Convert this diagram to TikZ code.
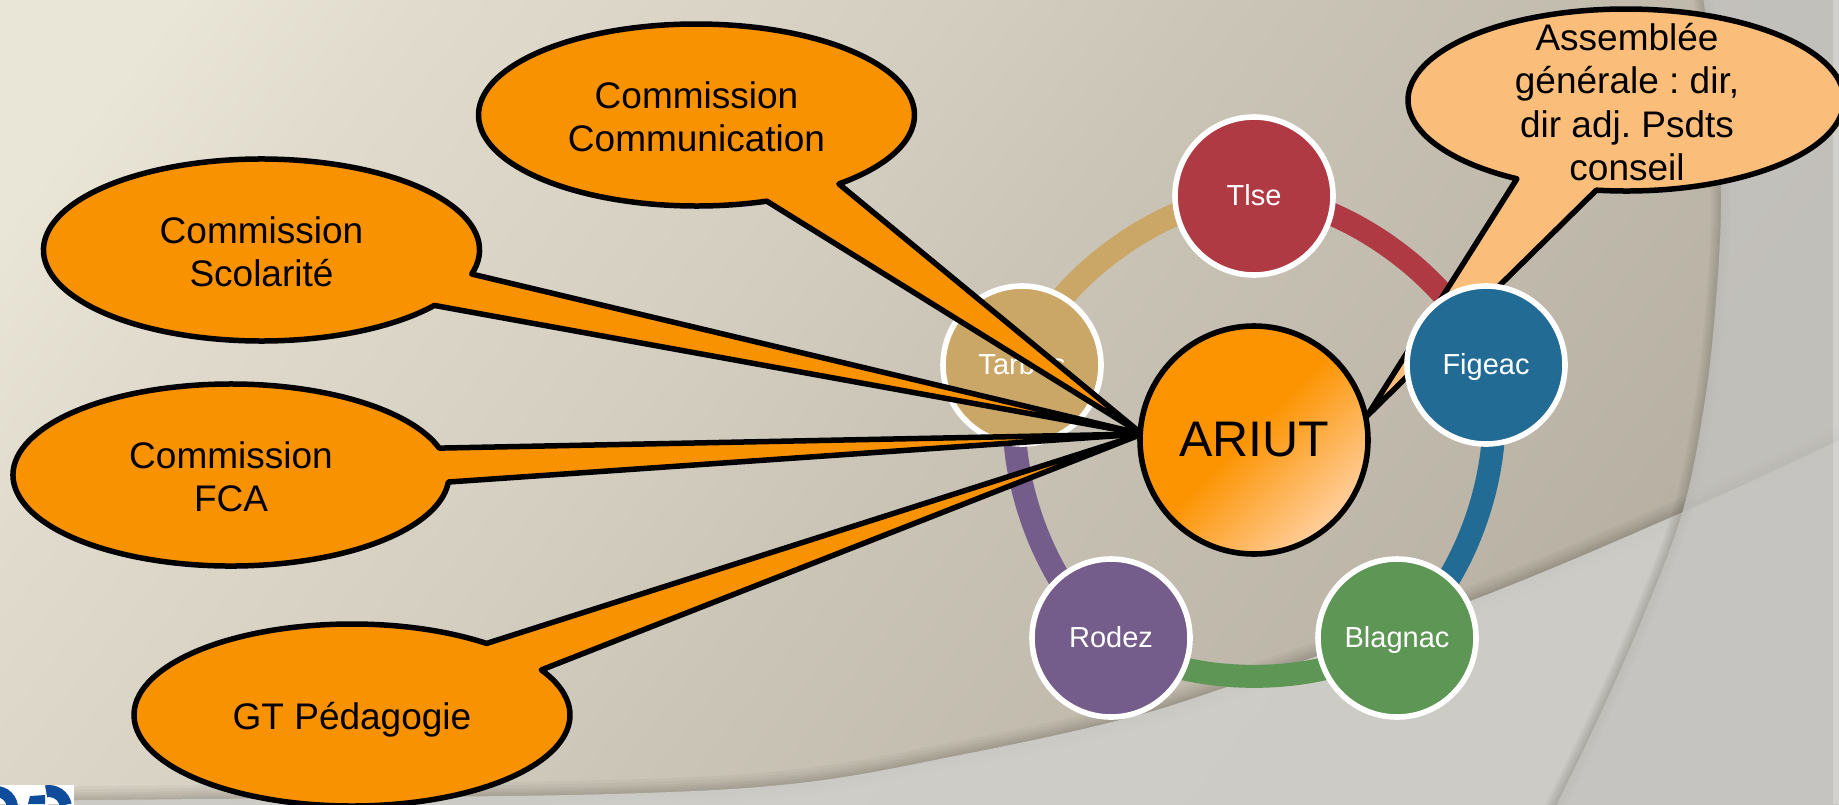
\documentclass[tikz,border=0pt]{standalone}
\usepackage{fontspec}
\setmainfont{Liberation Sans}
\frenchspacing
\usetikzlibrary{shapes.geometric}
\definecolor{bgA}{HTML}{E9E5D7}
\definecolor{bgE}{HTML}{E0DBCD}
\definecolor{bgD}{HTML}{DAD5C7}
\definecolor{bgC}{HTML}{D3CEC0}
\definecolor{bgM}{HTML}{CBC5B8}
\definecolor{bgB}{HTML}{B6AFA2}
\definecolor{shadowc}{HTML}{5E594E}
\definecolor{overB}{HTML}{D0CFCB}
\definecolor{overR}{HTML}{C4C3BF}
\definecolor{orangeC}{HTML}{F89200}
\definecolor{lightC}{HTML}{FBBE7A}
\definecolor{ariO}{HTML}{FC9300}
\definecolor{ariL}{HTML}{FFCF9E}
\definecolor{tlseC}{HTML}{B03A44}
\definecolor{figC}{HTML}{226B94}
\definecolor{blaC}{HTML}{5E9655}
\definecolor{rodC}{HTML}{745C8B}
\definecolor{tarC}{HTML}{CBA767}
\definecolor{logoC}{HTML}{0F4C9C}
\pgfdeclarehorizontalshading{ariutsh}{100bp}{color(0bp)=(ariO); color(48bp)=(ariO); color(75bp)=(ariL); color(100bp)=(ariL)}
\pgfdeclareverticalshading{pagesh}{100bp}{color(0bp)=(bgB); color(25bp)=(bgB); color(50bp)=(bgM); color(58bp)=(bgC); color(66bp)=(bgD); color(73bp)=(bgE); color(80bp)=(bgA); color(100bp)=(bgA)}
\pgfdeclarelayer{bgl}\pgfdeclarelayer{ring}\pgfdeclarelayer{mid}\pgfdeclarelayer{top}
\pgfsetlayers{bgl,ring,mid,main,top}
\tikzset{
  site/.style={circle,draw=white,line width=2.8pt,minimum size=79pt,inner sep=0pt,text=white,text height=10.4pt,text depth=1.4pt,font=\fontsize{14.5}{17}\selectfont},
  hub/.style={circle,draw=black,line width=2.8pt,minimum size=114pt,inner sep=0pt,shading=ariutsh,shading angle=-45,font=\fontsize{25}{30}\selectfont},
  ringarc/.style={line width=11.5pt,bend left=36,looseness=0.78},
  callshape/.style={draw=black,line width=2.75pt,line join=round},
  calltext/.style={align=center,inner sep=0pt,font=\fontsize{18.5}{21.7}\selectfont},
  soft/.style={draw=shadowc,opacity=0.06}
}
% #1 fill, #2 tip, #3 #4 centre, #5 #6 first base point, #7 #8 second base point
\newcommand\calloutpath[8]{%
  \pgfmathsetmacro{\tA}{atan2((#4-#6)/91,(#5-#3)/218)}%
  \pgfmathsetmacro{\tB}{atan2((#4-#8)/91,(#7-#3)/218)}%
  \pgfmathsetmacro{\tC}{\tB<\tA ? \tB+360 : \tB}%
  \draw[callshape,fill=#1] ({#3+218*cos(\tA)},{#4-91*sin(\tA)})
    arc[start angle=\tA,end angle=\tC,x radius=109pt,y radius=45.5pt] -- (#2) -- cycle;}
\newcommand\curveB{plot[smooth,tension=0.6] coordinates {(-5,801) (300,798) (612,794) (800,783) (960,755) (1112,722) (1224,688) (1473,600) (1683,512) (1844,438)}}
\newcommand\curveR{plot[smooth,tension=0.6] coordinates {(1703,-3) (1716,100) (1721,200) (1716,300) (1705,400) (1683,510) (1643,617) (1600,715) (1555,808)}}
\begin{document}
\begin{tikzpicture}[x=0.5pt,y=-0.5pt]
\useasboundingbox (0,0) rectangle (1839,804);
\begin{pgfonlayer}{bgl}
  \shade[shading=pagesh,shading angle=52] (0,0) rectangle (1839,804);
  \foreach \w in {2,4,6,8,11,14}{\draw[soft,line width=\w pt] \curveB;}
  \fill[overB,opacity=0.88] \curveB -- (1844,810) -- (-5,810) -- cycle;
  \foreach \w in {2,4,6,8,10}{\draw[soft,line width=\w pt] \curveR;}
  \fill[overR,opacity=0.8] \curveR -- (1844,808) -- (1844,-3) -- cycle;
  \fill[white,opacity=0.25] (1833,0) rectangle (1839,804);
  % logo
  \fill[white] (0,785) rectangle (74,804);
  \begin{scope}
    \clip (0,785) rectangle (74,804);
    \fill[logoC,even odd rule] (-4,808) circle[radius=11pt] (-4,808) circle[radius=5.5pt];
    \fill[logoC,even odd rule] (49,808) circle[radius=11.5pt] (49,808) circle[radius=5.5pt];
    \fill[white] (49,808) -- (44,780) -- (20,780) -- (20,815) -- (49,815) -- cycle;
    \fill[white] (49,808) -- (80,802) -- (80,815) -- (49,815) -- cycle;
    \fill[logoC] (28,804) -- (30,796) -- (45,795) -- (45,804) -- cycle;
  \end{scope}
\end{pgfonlayer}

\begin{pgfonlayer}{mid}
  \node[site,fill=tlseC] (tlse) at (1254,196) {Tlse};
  \node[site,fill=tarC] (tarbes) at (1022,365) {Tarbes};
  \node[site,fill=rodC] (rodez) at (1111,638) {Rodez};
  \node[site,fill=blaC] (blagnac) at (1397,638) {Blagnac};
\end{pgfonlayer}

\begin{pgfonlayer}{top}
  \node[hub] (ariut) at (1254,440) {ARIUT};
  \node[site,fill=figC] (figeac) at (1486,365) {Figeac};
\end{pgfonlayer}

\coordinate (tipL) at (1142,434);
\coordinate (tipR) at (1367,416);

\calloutpath{lightC}{tipR}{1626}{100}{1597}{188}{1518}{178}
\calloutpath{orangeC}{tipL}{696.5}{115}{837}{183}{765}{199}
\calloutpath{orangeC}{tipL}{261.5}{250}{471.5}{274}{433}{305}
\calloutpath{orangeC}{tipL}{231}{475}{440}{448}{448}{482}
\calloutpath{orangeC}{tipL}{352}{715}{485.5}{644}{541}{670}

\node[calltext] (tcom) at (696.5,117) {Commission\\Communication};
\node[calltext] (tsco) at (261.5,252) {Commission\\Scolarité};
\node[calltext] (tfca) at (231,477) {Commission\\FCA};
\node[calltext] (tgt) at (352,720) {GT Pédagogie};
\node[calltext] (tass) at (1627,102) {Assemblée\\générale : dir,\\dir adj. Psdts\\conseil};

\begin{pgfonlayer}{ring}
  \draw[ringarc,tlseC] (tlse.center) to (figeac.center);
  \draw[ringarc,figC] (figeac.center) to (blagnac.center);
  \draw[ringarc,blaC] (blagnac.center) to (rodez.center);
  \draw[ringarc,rodC] (rodez.center) to (tarbes.center);
  \draw[ringarc,tarC] (tarbes.center) to (tlse.center);
\end{pgfonlayer}
\end{tikzpicture}
\end{document}
